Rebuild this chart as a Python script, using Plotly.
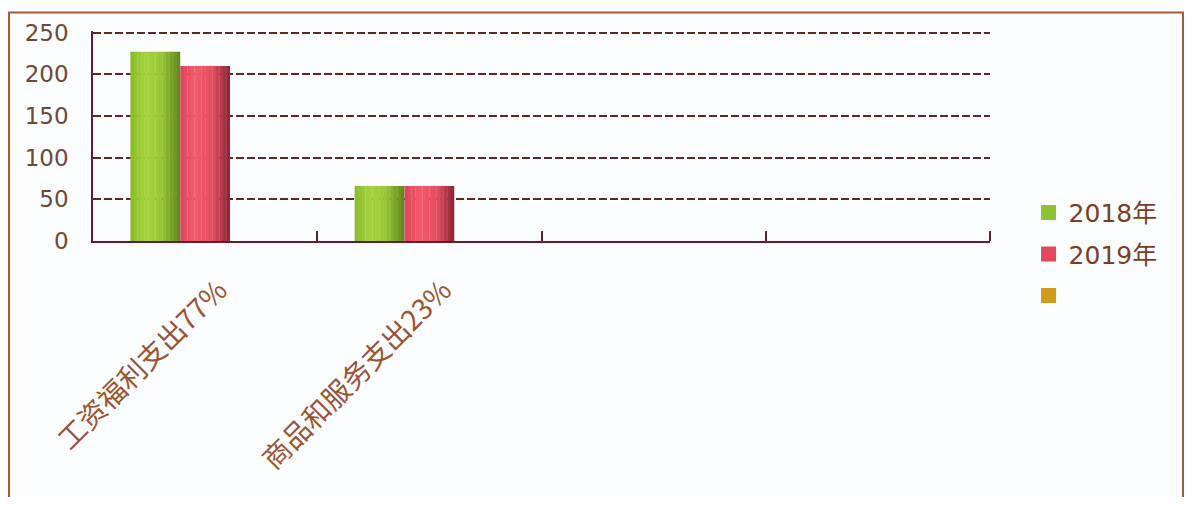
import plotly.graph_objects as go

# ---- data ----
categories = ["工资福利支出77%", "商品和服务支出23%", "", ""]
series_names = ["2018年", "2019年", " "]
values_2018 = [227, 66, None, None]
values_2019 = [210, 66, None, None]
values_3 = [None, None, None, None]
y_ticks = [0, 50, 100, 150, 200, 250]

series_values = [values_2018, values_2019, values_3]

# ---- styles ----
gradients = [
    [(0.0, "#88ba2c"), (0.3, "#a4d43c"), (0.62, "#98c836"), (1.0, "#5c8520")],
    [(0.0, "#da455c"), (0.3, "#f45b6b"), (0.65, "#e44f62"), (1.0, "#862536")],
    [(0.0, "#c08a14"), (0.3, "#e0aa24"), (0.65, "#d09a1a"), (1.0, "#8c6410")],
]
legend_colors = ["#8fc236", "#e04a5c", "#d09a1a"]


def hex2rgb(h):
    h = h.lstrip("#")
    return tuple(int(h[i:i + 2], 16) for i in (0, 2, 4))


def interp(stops, t):
    for (t0, c0), (t1, c1) in zip(stops[:-1], stops[1:]):
        if t0 <= t <= t1:
            f = (t - t0) / (t1 - t0) if t1 > t0 else 0
            a, b = hex2rgb(c0), hex2rgb(c1)
            return "rgb(%d,%d,%d)" % tuple(round(a[k] + (b[k] - a[k]) * f) for k in range(3))
    return stops[-1][1]


n_series = 3
group_w = 2 / 3
bar_w = group_w / n_series
n_slices = 14
slice_w = bar_w / n_slices

x_idx = list(range(len(categories)))

fig = go.Figure()
for s, (name, vals) in enumerate(zip(series_names, series_values)):
    base_off = -group_w / 2 + s * bar_w
    for k in range(n_slices):
        t = (k + 0.5) / n_slices
        w = slice_w * (1.0 if k == n_slices - 1 else 1.08)
        fig.add_trace(go.Bar(
            x=x_idx, y=vals, width=w, offset=base_off + k * slice_w,
            marker=dict(color=interp(gradients[s], t), line=dict(width=0)),
            showlegend=False, legendgroup=name, hoverinfo="skip",
        ))
    # legend entry
    fig.add_trace(go.Scatter(
        x=[None], y=[None], name=name, mode="markers",
        marker=dict(symbol="square", size=15, color=legend_colors[s]),
        legendgroup=name, showlegend=True,
    ))

axis_col = "#6a1c28"
grid_col = "#5e2a20"

# page body has an 8px offset; figure kept inside the window (no scrollbars)
W, H = 1176, 489
Y_TOP = 252
L, PW = 85, 897
PH = 211.5 * Y_TOP / 250
T = 233 - PH

fig.update_layout(
    width=W, height=H,
    barmode="overlay",
    margin=dict(l=L, r=W - L - PW, t=T, b=H - T - PH),
    paper_bgcolor="#fcfdff",
    plot_bgcolor="#fcfdff",
    font=dict(family="Noto Sans CJK SC, DejaVu Sans, sans-serif"),
    legend=dict(
        x=1.043, y=0.244, xanchor="left", yanchor="top",
        font=dict(size=25, color="#7a3f22", family="DejaVu Sans, Noto Sans CJK SC"),
        traceorder="grouped", tracegroupgap=6,
        bgcolor="rgba(0,0,0,0)",
    ),
    xaxis=dict(
        range=[-0.5, 3.5],
        tickmode="array", tickvals=x_idx, ticktext=categories,
        tickangle=-45, ticks="",
        tickfont=dict(size=28, color="#9a5430", family="Noto Sans CJK SC"),
        showline=True, linecolor=axis_col, linewidth=1.5,
        showgrid=False, zeroline=False,
        ticklabelstandoff=20, ticklabelshift=14,
        minor=dict(tickvals=[0.5, 1.5, 2.5, 3.5], ticks="inside", ticklen=10,
                   tickcolor=axis_col, tickwidth=1.5, showgrid=False),
    ),
    yaxis=dict(
        range=[0, Y_TOP],
        tickmode="array", tickvals=y_ticks,
        tickfont=dict(size=23, color="#6b4a36", family="DejaVu Sans"),
        showline=True, linecolor=axis_col, linewidth=1.5,
        showgrid=True, gridcolor=grid_col, gridwidth=1.7, griddash="8px,3px",
        zeroline=False, ticks="",
        ticklabelstandoff=18,
    ),
    shapes=[dict(
        type="rect", xref="paper", yref="paper",
        x0=(1 - L) / PW, x1=(W - 1 - L) / PW,
        y0=-1.5, y1=(T + PH - 1) / PH,
        line=dict(color="#a85a38", width=2), fillcolor="rgba(0,0,0,0)", layer="below",
    )],
)

fig.write_html("out.html")
